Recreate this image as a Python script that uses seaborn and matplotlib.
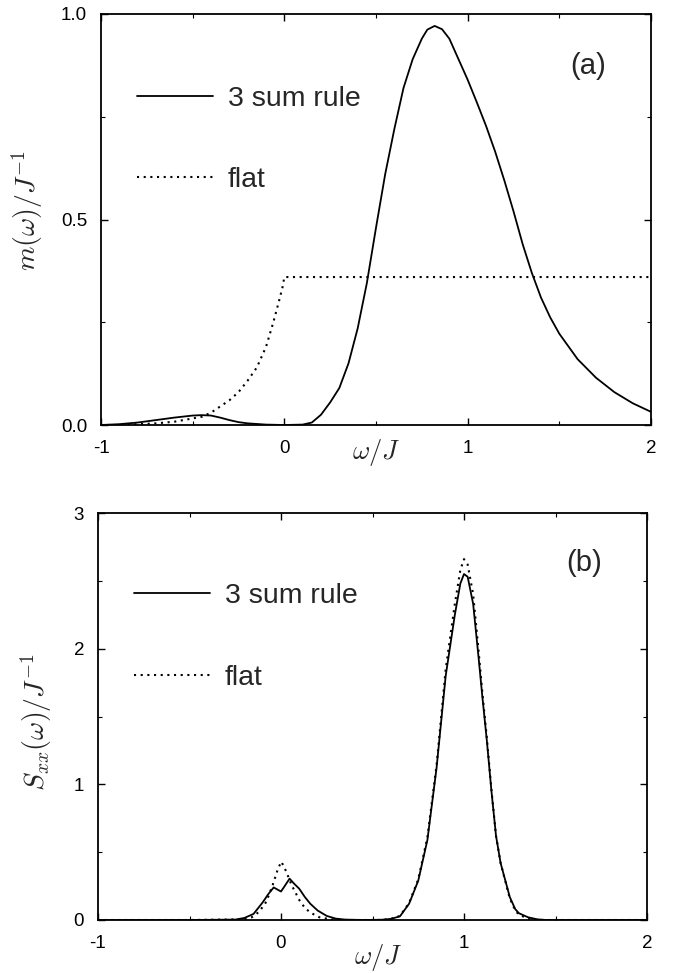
import numpy as np
import pandas as pd
import matplotlib
matplotlib.use("Agg")
import matplotlib.pyplot as plt
import seaborn as sns
from matplotlib.ticker import MultipleLocator

# ---------------- data ----------------
# panel (a): m(omega)
a_sum_w = [-1.0, -0.9, -0.8, -0.7, -0.6, -0.5, -0.45, -0.4, -0.35, -0.3, -0.25, -0.2,
           -0.1, 0.0, 0.1, 0.15, 0.2, 0.25, 0.3, 0.35, 0.4, 0.45, 0.5, 0.55, 0.6,
           0.65, 0.7, 0.75, 0.78, 0.82, 0.86, 0.9, 0.95, 1.0, 1.05, 1.1, 1.15, 1.2,
           1.25, 1.3, 1.35, 1.4, 1.45, 1.5, 1.6, 1.7, 1.8, 1.9, 2.0]
a_sum_m = [0.0, 0.002, 0.006, 0.012, 0.018, 0.023, 0.024, 0.023, 0.018, 0.012, 0.007, 0.004,
           0.001, 0.0, 0.001, 0.006, 0.025, 0.055, 0.09, 0.15, 0.235, 0.345, 0.48, 0.61, 0.72,
           0.82, 0.89, 0.94, 0.962, 0.971, 0.963, 0.94, 0.89, 0.84, 0.785, 0.728, 0.665, 0.595,
           0.52, 0.44, 0.37, 0.31, 0.262, 0.222, 0.16, 0.115, 0.08, 0.053, 0.032]

a_flat_w = [-1.0, -0.9, -0.8, -0.7, -0.6, -0.55, -0.5, -0.45, -0.4, -0.35, -0.3, -0.25,
            -0.2, -0.15, -0.1, -0.06, -0.03, -0.01, 0.0, 0.5, 1.0, 1.5, 2.0]
a_flat_m = [0.0, 0.0, 0.002, 0.004, 0.008, 0.012, 0.016, 0.02, 0.03, 0.045, 0.06, 0.08,
            0.108, 0.14, 0.19, 0.25, 0.30, 0.335, 0.36, 0.36, 0.36, 0.36, 0.36]

# panel (b): S_xx(omega)
b_sum_w = [-1.0, -0.5, -0.25, -0.2, -0.15, -0.1, -0.07, -0.04, -0.02, 0.0, 0.02, 0.047,
           0.07, 0.1, 0.13, 0.16, 0.2, 0.25, 0.3, 0.35, 0.45, 0.55, 0.6, 0.65, 0.7, 0.75,
           0.8, 0.85, 0.9, 0.95, 0.98, 1.0, 1.02, 1.05, 1.08, 1.1, 1.125, 1.15, 1.175,
           1.2, 1.25, 1.28, 1.3, 1.35, 1.4, 1.45, 1.6, 2.0]
b_sum_s = [0.0, 0.0, 0.003, 0.015, 0.045, 0.13, 0.19, 0.24, 0.225, 0.21, 0.25, 0.305,
           0.27, 0.23, 0.17, 0.12, 0.07, 0.03, 0.01, 0.003, 0.0, 0.002, 0.008, 0.027, 0.12, 0.29,
           0.59, 1.12, 1.80, 2.25, 2.48, 2.55, 2.53, 2.33, 1.93, 1.65, 1.32, 0.95, 0.62,
           0.42, 0.17, 0.08, 0.05, 0.02, 0.005, 0.0, 0.0, 0.0]

b_flat_w = [-1.0, -0.5, -0.2, -0.16, -0.12, -0.08, -0.045, -0.016, 0.002, 0.029, 0.057,
            0.08, 0.1, 0.13, 0.16, 0.21, 0.27, 0.35, 0.45, 0.55, 0.6, 0.65, 0.7, 0.75,
            0.8, 0.85, 0.9, 0.95, 0.98, 1.0, 1.02, 1.05, 1.08, 1.1, 1.125, 1.15, 1.175,
            1.2, 1.25, 1.28, 1.3, 1.35, 1.4, 1.6, 2.0]
b_flat_s = [0.0, 0.0, 0.005, 0.02, 0.06, 0.135, 0.26, 0.38, 0.43, 0.356, 0.26,
            0.2, 0.147, 0.09, 0.055, 0.02, 0.005, 0.0, 0.0, 0.0, 0.008, 0.03, 0.125, 0.30,
            0.61, 1.14, 1.85, 2.33, 2.58, 2.66, 2.62, 2.40, 1.98, 1.68, 1.34, 0.96, 0.62,
            0.42, 0.16, 0.07, 0.04, 0.01, 0.0, 0.0, 0.0]

legend_labels = ["3 sum rule", "flat"]
panel_tags = ["(a)", "(b)"]
x_ticks = [-1, 0, 1, 2]
a_yticks = [0.0, 0.5, 1.0]
a_yticklabels = ["0.0", "0.5", "1.0"]
b_yticks = [0, 1, 2, 3]
b_yticklabels = ["0", "1", "2", "3"]

# ---------------- style ----------------
sns.set_style("ticks")
plt.rcParams["font.family"] = ["Liberation Sans", "DejaVu Sans"]
plt.rcParams["mathtext.fontset"] = "cm"
plt.rcParams["axes.linewidth"] = 1.3
plt.rcParams["axes.edgecolor"] = "black"
plt.rcParams["xtick.color"] = "black"
plt.rcParams["ytick.color"] = "black"

fig = plt.figure(figsize=(6.8, 9.73), dpi=100)
axA = fig.add_axes([101 / 680, 1 - 425 / 973, 550 / 680, 411 / 973])
axB = fig.add_axes([98 / 680, 1 - 920 / 973, 549 / 680, 407 / 973])

dfA1 = pd.DataFrame({"w": a_sum_w, "v": a_sum_m})
dfA2 = pd.DataFrame({"w": a_flat_w, "v": a_flat_m})
dfB1 = pd.DataFrame({"w": b_sum_w, "v": b_sum_s})
dfB2 = pd.DataFrame({"w": b_flat_w, "v": b_flat_s})

for ax, d1, d2 in [(axA, dfA1, dfA2), (axB, dfB1, dfB2)]:
    sns.lineplot(data=d1, x="w", y="v", ax=ax, color="black", lw=1.3,
                 linestyle="-", label=legend_labels[0], sort=False)
    sns.lineplot(data=d2, x="w", y="v", ax=ax, color="black", lw=1.5,
                 linestyle=(0, (1, 2.2)), label=legend_labels[1], sort=False)
    ax.set_xlim(-1, 2)
    ax.set_xticks(x_ticks)
    ax.set_xticklabels([str(t) for t in x_ticks])
    ax.xaxis.set_minor_locator(MultipleLocator(0.5))
    ax.tick_params(which="both", direction="in", top=True, right=True,
                   labelsize=13.5)
    ax.tick_params(axis="x", which="major", pad=11)
    ax.tick_params(axis="y", which="major", pad=10)
    ax.tick_params(which="major", length=5, width=1)
    ax.tick_params(which="minor", length=3, width=0.8)
    ax.set_xlabel("")
    ax.set_ylabel("")
    ax.legend(loc="center left", frameon=False, fontsize=20.5,
              handlelength=2.67, handletextpad=0.53, labelspacing=1.95,
              borderpad=0, borderaxespad=0,
              bbox_to_anchor=(0.065, 0.695))

axA.set_ylim(0, 1.0)
axA.set_yticks(a_yticks)
axA.set_yticklabels(a_yticklabels)
axA.yaxis.set_minor_locator(MultipleLocator(0.25))
axB.set_ylim(0, 3)
axB.set_yticks(b_yticks)
axB.set_yticklabels(b_yticklabels)
axB.yaxis.set_minor_locator(MultipleLocator(0.5))

axA.text(0.885, 0.873, panel_tags[0], transform=axA.transAxes, fontsize=21,
         ha="center", va="center")
axB.text(0.885, 0.877, panel_tags[1], transform=axB.transAxes, fontsize=21,
         ha="center", va="center")

axA.text(0.5, -0.066, r"$\omega/J$", transform=axA.transAxes, fontsize=19,
         ha="center", va="center")
axB.text(0.51, -0.092, r"$\omega/J$", transform=axB.transAxes, fontsize=19,
         ha="center", va="center")
axA.text(-0.135, 0.523, r"$m(\omega)/J^{-1}$", transform=axA.transAxes, fontsize=20,
         ha="center", va="center", rotation=90)
axB.text(-0.112, 0.486, r"$S_{xx}(\omega)/J^{-1}$", transform=axB.transAxes, fontsize=20,
         ha="center", va="center", rotation=90)

fig.savefig("out.png", dpi=100)
